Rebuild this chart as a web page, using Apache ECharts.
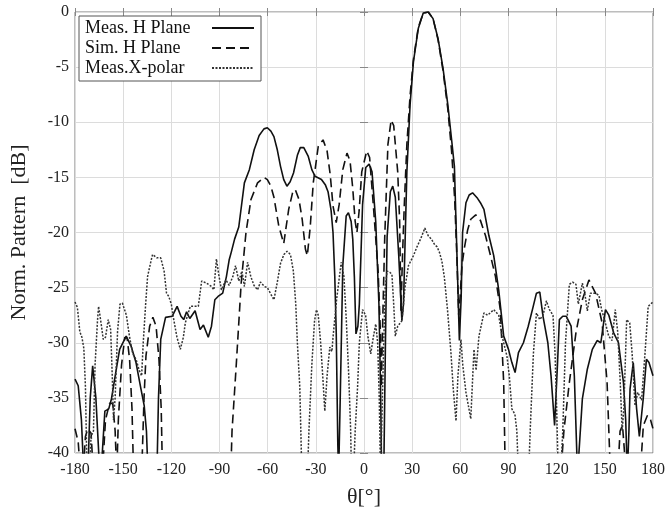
<!DOCTYPE html>
<html style="height: 100%">
<head>
    <meta charset="utf-8">
    <title>Norm. Pattern</title>
</head>
<body style="height: 100%; margin: 0; background: #fff">
<div id="container" style="width: 668px; height: 513px"></div>

<script src="https://cdn.jsdelivr.net/npm/echarts/dist/echarts.min.js"></script>
<script type="text/javascript">
// 角度刻度
var thetaTicks = [-180, -150, -120, -90, -60, -30, 0, 30, 60, 90, 120, 150, 180];
var seriesNames = ['Meas. H Plane', 'Sim. H Plane', 'Meas.X-polar'];

// [theta, dB] ; -42 = below the -40 floor
var measH = [
    [-180,-33.3],[-178,-33.9],[-176,-37],[-174.5,-42],[-172,-42],[-170.5,-35],[-169,-32.1],[-167,-35],
    [-164.5,-42],[-163,-40],[-161.4,-36.2],[-159,-36],[-157.3,-35.1],[-155.3,-33.3],[-152.2,-30.6],
    [-148.1,-29.4],[-145.1,-30.3],[-142,-31.8],[-138.9,-34.2],[-136.9,-35.7],[-135.5,-38],[-134.5,-42],
    [-129,-42],[-128,-35],[-126.6,-29.7],[-123.6,-27.7],[-119.5,-27.6],[-116.4,-26.7],[-114,-27.6],
    [-112.3,-27.9],[-110.5,-27.2],[-108.5,-27.8],[-105.2,-27.1],[-102.1,-28.8],[-100,-28.4],[-97,-29.5],
    [-95,-28.5],[-92.9,-26.1],[-90.9,-25.8],[-88,-25.5],[-85.7,-24],[-84,-22.5],[-82.7,-21.8],[-80.6,-20.6],
    [-78,-19.5],[-74.5,-15.5],[-71.4,-14.3],[-68.4,-12.5],[-65.3,-11.2],[-62.3,-10.6],[-60.2,-10.5],
    [-58,-10.8],[-56.1,-11.3],[-54,-12.5],[-52,-14],[-50,-15.2],[-48,-15.8],[-46,-15.4],[-43.9,-14.6],
    [-41.5,-13],[-39.7,-12.3],[-37.5,-12.3],[-34.7,-13.1],[-32.5,-14.3],[-30.5,-14.9],[-26.5,-15.2],
    [-24,-15.7],[-22.4,-16.3],[-20.5,-18],[-19.3,-20],[-18.2,-24],[-17.3,-29],[-16.3,-39.3],[-15.8,-42],
    [-14.8,-35],[-13.2,-23],[-11.1,-18.5],[-9.7,-18.2],[-8,-19],[-7,-20.6],[-6,-24],[-5,-29.2],
    [-3.8,-28.5],[-2.9,-26.5],[-0.9,-17.5],[1.1,-14.1],[3.2,-13.8],[5,-14.5],[7.3,-19],[9.3,-26.5],
    [10.3,-34],[11,-42],[12.3,-42],[13.4,-29.5],[14.4,-20.4],[16.4,-16.3],[17.9,-15.8],[19.5,-16.8],
    [21.6,-22],[23.6,-28],[24.6,-26.5],[26.7,-14.5],[28.7,-8.4],[30.8,-4.5],[33.8,-1.5],[36.9,-0.1],
    [40,0],[43,-0.6],[46.1,-2.4],[49.2,-5.1],[52.2,-8.4],[54.5,-11.5],[56.3,-14],[57.5,-20],[59.4,-29.8],
    [60.5,-26],[61.4,-20],[63.5,-17.3],[65.5,-16.6],[67.6,-16.4],[70.7,-16.9],[72.5,-17.3],[74.7,-17.9],
    [77.8,-20.3],[80.8,-22.1],[83.9,-25.2],[87,-29.4],[90,-30.6],[92.1,-31.8],[94.1,-32.7],[96.2,-30.9],
    [99.3,-30],[102.3,-28.5],[105.4,-26.7],[107.4,-25.5],[109.5,-25.4],[111.5,-27.6],[114.5,-30],
    [116.5,-33],[118.7,-37.5],[120.5,-32],[121.7,-27.9],[123.8,-27.6],[126,-27.6],[129,-28.5],[131,-33],
    [133,-42],[134,-42],[136,-35.1],[139.1,-32.4],[142.2,-30.6],[145.2,-29.8],[147.5,-30],[150.4,-27],
    [152.5,-27.5],[155.5,-29.1],[158.5,-30],[161.6,-33.6],[163,-37],[164,-42],[165,-38],[165.7,-34.2],
    [167.7,-31.8],[169.8,-36],[171.5,-38.5],[173.9,-35.1],[175.9,-31.5],[177.5,-31.8],[180,-33]
];

var simH = [
    [-180,-37.8],[-178,-39],[-176.5,-42],[-175,-42],[-173.5,-38.5],[-172,-37.8],[-170,-38.2],[-168.5,-42],
    [-163,-42],[-161,-37],[-158.5,-35.5],[-156.5,-35.5],[-155,-38],[-154,-42],[-153,-37],[-151,-32],
    [-149,-29.5],[-147.5,-29.6],[-146,-31.5],[-144.5,-36],[-143.5,-42],[-138.5,-42],[-137,-35],
    [-135.8,-31.2],[-133.5,-28.5],[-131.5,-27.7],[-129.5,-28.5],[-127.7,-31.5],[-126.3,-36],[-125.5,-42],
    [-83,-42],[-82.2,-38],[-79.6,-32.1],[-76.5,-24.6],[-73.5,-20],[-70.4,-17],[-66.3,-15.5],[-62.3,-15],
    [-60.2,-15.2],[-58,-15.8],[-56.1,-16.8],[-53.1,-19.4],[-50,-21],[-48.5,-19.5],[-46.9,-17.9],
    [-44.5,-16.4],[-42.8,-16.1],[-40.5,-17],[-38.5,-18.8],[-36.5,-21.5],[-35.3,-22.1],[-33.5,-19.5],
    [-31.6,-15.5],[-28.5,-12.2],[-25.5,-11.6],[-23,-12.6],[-21,-14.8],[-19.3,-17.6],[-17.3,-19.1],
    [-15.5,-17.5],[-13.2,-14.3],[-10.6,-12.8],[-8.7,-13.5],[-7,-16],[-5.5,-19],[-4.4,-20],[-3,-18],
    [-1.4,-14.5],[1.7,-12.6],[3.5,-13.2],[5.8,-17.5],[8.8,-23.5],[10.2,-29],[10.8,-34],[11.5,-29],
    [12.9,-20.5],[14.9,-12],[16.9,-9.8],[18.5,-10.3],[21,-14.5],[22.2,-19],[23,-27.1],[24,-22],
    [25.1,-17.5],[26.7,-12],[28.7,-7.6],[30.8,-4.3],[33.8,-1.4],[36.9,-0.1],[40,0],[43,-0.6],[46.1,-2.5],
    [49.2,-5.3],[52.2,-8.8],[54.5,-12.5],[56.5,-17],[57.8,-22],[59,-27.5],[59.8,-26],[61,-23],
    [62.4,-21.5],[64.5,-19.8],[66.5,-18.8],[69.6,-18.4],[72.5,-18.9],[75.7,-20.3],[78.8,-22.1],
    [81.9,-24],[84.9,-27],[87,-33.6],[88,-42],[122.5,-42],[124.5,-38],[127.9,-33.6],[132,-29.1],
    [136,-26.1],[140.1,-24.3],[144.2,-25.5],[148.3,-28.2],[151.4,-33.6],[153.5,-42],[158,-42],
    [159.5,-38],[161,-37.5],[162.3,-40],[163,-42],[172,-42],[174,-37.5],[176.5,-36.6],[178.5,-37],[180,-37.8]
];

var measX = [
    [-180,-26.3],[-178.5,-26.8],[-177,-29],[-175.7,-29.5],[-174.5,-30.5],[-173.5,-34],[-172.5,-42],
    [-171,-42],[-170,-38.5],[-168.5,-38],[-167.5,-32],[-166,-28],[-165.3,-26.7],[-163.5,-28.5],
    [-162.4,-29.7],[-161,-29.5],[-159.3,-27.9],[-157.8,-28.8],[-156.8,-33],[-156,-37],[-155,-35],
    [-153.5,-29],[-152,-26.5],[-150.5,-26.4],[-148,-27.5],[-146,-29.5],[-144,-31],[-142,-31.5],
    [-140,-32.5],[-138.5,-33],[-137.5,-30],[-136,-26.5],[-134.8,-24],[-133,-22.8],[-131.7,-22],
    [-129,-22.3],[-126.6,-22.3],[-124.5,-23.5],[-123,-25.5],[-121.6,-25.8],[-120,-26.5],[-118.5,-27.9],
    [-116.5,-29.5],[-114.4,-30.6],[-112.5,-29.5],[-111.3,-28.2],[-108.2,-26.7],[-105,-26.7],
    [-103.2,-26.7],[-101.1,-24.4],[-98,-24.6],[-95,-24.9],[-93.5,-25.2],[-91.9,-22.4],[-90.5,-23.8],
    [-88.8,-25.2],[-86,-24.3],[-84,-24.8],[-81.7,-24],[-80,-23],[-78,-24.4],[-76,-23.5],[-74.5,-24.9],
    [-72.5,-22.7],[-70.5,-24],[-68.5,-24.8],[-66.3,-25.2],[-64.5,-24.5],[-62,-24.9],[-60.2,-25],
    [-58,-25.6],[-56.1,-26.1],[-54,-24.5],[-52,-22.8],[-49.9,-22],[-47.9,-21.7],[-45.8,-22],[-44,-23.5],
    [-42.5,-26.5],[-41.5,-30],[-40,-34],[-38.7,-42],[-35.2,-42],[-34.3,-38],[-32.5,-32],[-30.8,-28],
    [-29.6,-27],[-28.5,-27.5],[-27,-30],[-25.5,-33.5],[-24.4,-36.2],[-23,-33],[-21.3,-30.4],[-20,-30.8],
    [-19.3,-29.5],[-17,-26],[-14.2,-22.7],[-12.5,-24],[-11,-28],[-9.5,-33],[-8.3,-38],[-7.8,-42],
    [-6.5,-42],[-5.5,-38],[-4,-34],[-2.9,-30],[-0.9,-27],[1,-27.5],[2.5,-29.5],[4.2,-31],[5.8,-29.5],
    [7.3,-28.3],[8.5,-30],[9.5,-35],[10.3,-42],[11.5,-42],[12.3,-30],[13.2,-25],[14.4,-23.5],[16,-23.6],
    [17.4,-23.8],[18.5,-26.5],[19.5,-29.4],[21,-28.5],[23.6,-28],[25.5,-25],[27.7,-23],[30.8,-22.1],
    [33,-21.3],[35.5,-20.5],[37.9,-19.6],[40,-20.3],[42,-20.6],[44,-21.1],[45.5,-21.3],[47,-21.8],
    [48.5,-22.6],[50,-24],[52,-27],[54.2,-31],[55.5,-34],[57.3,-37.1],[58.5,-33],[60.4,-29.7],
    [61.5,-32],[63.5,-34.5],[66.5,-36.9],[68.5,-30.6],[69.8,-32.5],[71.6,-29.4],[74.7,-27.3],[77,-27.5],
    [80.8,-27],[83.9,-27.5],[86,-29.4],[89,-31.2],[90.5,-33],[92.1,-36],[94,-36.5],[95.2,-38],[96.2,-42],
    [102.5,-42],[103.5,-38],[105.5,-31],[107.4,-27.3],[109.5,-27.9],[111.5,-27.5],[113.6,-26.2],
    [115.5,-27],[117.7,-27.5],[119,-31],[120,-36],[121,-42],[122.5,-42],[123.8,-38],[125.5,-30],
    [127.9,-24.7],[130,-24.5],[132,-24.7],[133.5,-26.5],[136,-24.6],[137.5,-25.5],[139.1,-27.1],
    [141,-25.5],[144,-25.5],[146.3,-25.7],[148,-27],[150,-28],[152.4,-29.4],[154.5,-29.8],[156.5,-27],
    [158,-29],[159.6,-33.6],[160.8,-38],[161.8,-36],[163.6,-27.9],[165.5,-28.2],[167,-31],[168.8,-35.7],
    [170.5,-34.5],[172.9,-35.2],[175,-31],[177,-26.7],[180,-26.3]
];

var myChart = echarts.init(document.getElementById('container'), null, {renderer: 'canvas'});
var serif = '"Liberation Serif", "DejaVu Serif", serif';

var gridLine = {show: true, lineStyle: {color: '#dcdcdc', width: 1}};
var tick = {show: true, inside: true, length: 4, lineStyle: {color: '#888'}};

option = {
    backgroundColor: '#fff',
    animation: false,
    grid: {
        left: 68, right: 13, top: 12, bottom: 59,
        show: true, borderColor: '#7a7a7a', borderWidth: 1
    },
    legend: {
        orient: 'vertical',
        left: 79, top: 16,
        align: 'right',
        backgroundColor: '#fff',
        borderColor: '#555',
        borderWidth: 1,
        borderRadius: 0,
        padding: [3, 6, 4, 6],
        itemGap: 2,
        itemWidth: 42,
        itemHeight: 10,
        itemStyle: {opacity: 0},
        formatter: function (name) { return '{t|' + name + '}'; },
        textStyle: {
            fontFamily: serif, fontSize: 18, color: '#111',
            rich: {t: {fontFamily: serif, fontSize: 18, color: '#111', width: 122, align: 'left'}}
        },
        data: seriesNames
    },
    xAxis: [{
        type: 'value',
        min: -180, max: 180, interval: 30,
        name: 'θ[°]',
        nameLocation: 'middle',
        nameGap: 33,
        nameTextStyle: {fontFamily: serif, fontSize: 22, color: '#222'},
        axisLine: {show: false},
        axisTick: tick,
        splitLine: gridLine,
        axisLabel: {fontFamily: serif, fontSize: 16, color: '#222', margin: 9,
            formatter: function (v) { return thetaTicks.indexOf(v) >= 0 ? String(v) : ''; }}
    }, {
        type: 'value', position: 'top',
        min: -180, max: 180, interval: 30,
        axisLine: {show: false}, axisTick: tick, axisLabel: {show: false}, splitLine: {show: false}
    }],
    yAxis: [{
        type: 'value',
        min: -40, max: 0, interval: 5,
        name: 'Norm. Pattern  [dB]',
        nameLocation: 'middle',
        nameGap: 45,
        nameTextStyle: {fontFamily: serif, fontSize: 22, color: '#222'},
        axisLine: {show: false},
        axisTick: tick,
        splitLine: gridLine,
        axisLabel: {fontFamily: serif, fontSize: 16, color: '#222', margin: 6}
    }, {
        type: 'value', position: 'right',
        min: -40, max: 0, interval: 5,
        axisLine: {show: false}, axisTick: tick, axisLabel: {show: false}, splitLine: {show: false}
    }],
    series: [
        {
            name: seriesNames[0], type: 'line', data: measH,
            symbol: 'none', clip: true,
            lineStyle: {color: '#111', width: 1.6, type: 'solid'},
            itemStyle: {color: '#111'}
        },
        {
            name: seriesNames[1], type: 'line', data: simH,
            symbol: 'none', clip: true,
            lineStyle: {color: '#111', width: 1.6, type: [9, 5]},
            itemStyle: {color: '#111'}
        },
        {
            name: seriesNames[2], type: 'line', data: measX,
            symbol: 'none', clip: true,
            lineStyle: {color: '#333', width: 1.5, type: [2, 1.5]},
            itemStyle: {color: '#333'}
        }
    ]
};
myChart.setOption(option);
</script>
</body>
</html>
